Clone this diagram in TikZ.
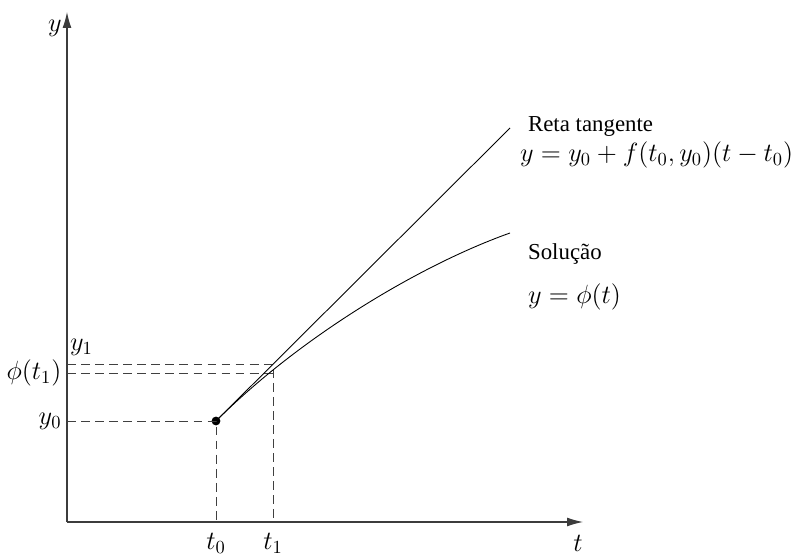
\RequirePackage{fix-cm}
\documentclass[tikz,border=0pt]{standalone}
\usepackage{fontspec}
\setmainfont{Liberation Serif}
\usetikzlibrary{arrows.meta}
\definecolor{axisLine}{HTML}{3C3C3C}
\definecolor{guideLine}{HTML}{404040}

\begin{document}
\begin{tikzpicture}[x=0.02cm,y=0.02cm,
          every node/.style={font=\fontsize{13}{15}\selectfont,inner sep=1pt},
          mathlbl/.style={font=\fontsize{15}{18}\selectfont},
          axis/.style={draw=axisLine,line width=0.6pt,-{Latex[length=9pt,width=5pt]}},
          guide/.style={draw=guideLine,line width=0.5pt,dash pattern=on 5pt off 3pt},
          curve/.style={draw=black,line width=0.5pt},
        ]
        \useasboundingbox (0,0) rectangle (795,555);
        % axes
        \coordinate (o) at (67,33);
        \coordinate (yend) at (67,543);
        \coordinate (tend) at (583,33);
        \draw[axis] (o) -- (yend);
        \draw[axis] (o) -- (tend);
        \node[mathlbl] (ylab) at (55,527) {$y$};
        \node[mathlbl] (tlab) at (578,12) {$t$};
        % points on the curves
        \node[circle,fill=black,inner sep=0pt,minimum size=5pt] (p0) at (216,134) {};
        \coordinate (tanend) at (510,427);
        \coordinate (solend) at (510,322);
        \coordinate (q1) at (273,191);
        \coordinate (q2) at (273,182);
        % guides
        \coordinate (t0ax) at (216,33);
        \coordinate (t1ax) at (273,33);
        \coordinate (y0ax) at (67,134);
        \coordinate (y1ax) at (67,191);
        \coordinate (phiax) at (67,182);
        \draw[guide] (y0ax) -- (p0.center) -- (t0ax);
        \draw[guide] (y1ax) -- (q1) -- (t1ax);
        \draw[guide] (phiax) -- (q2);
        % tangent and solution
        \draw[curve] (p0.center) -- (tanend);
        \draw[curve] (p0.center) .. controls (300,218) and (420,290) .. (solend);
        % axis labels
        \node[mathlbl,below=5pt] (t0lab) at (t0ax) {$t_0$};
        \node[mathlbl,below=5pt] (t1lab) at (t1ax) {$t_1$};
        \node[mathlbl,left=2pt] (y0lab) at (y0ax) {$y_0$};
        \node[mathlbl,left=2pt] (philab) at (phiax) {$\phi(t_1)$};
        \node[mathlbl,anchor=west] (y1lab) at (68,208) {$y_1$};
        % curve labels
        \node[anchor=west] (tantxt) at (526,429) {Reta tangente};
        \node[mathlbl,anchor=west] (taneq) at (518,400) {$y = y_0 + f(t_0,y_0)(t-t_0)$};
        \node[anchor=west] (soltxt) at (526,301) {Solução};
        \node[mathlbl,anchor=west] (soleq) at (526,258) {$y = \phi(t)$};
      \end{tikzpicture}
\end{document}
